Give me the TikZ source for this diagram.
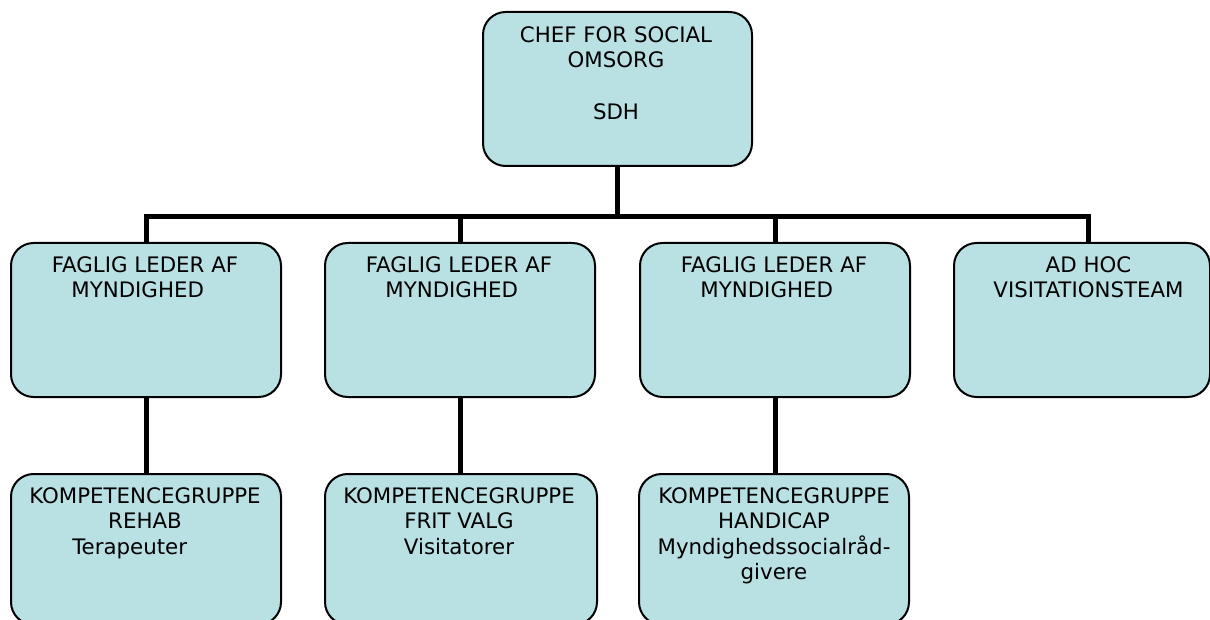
\documentclass[tikz,border=0pt]{standalone}
\usepackage{fontspec}
\setmainfont{DejaVu Sans}
\definecolor{boxfill}{RGB}{185,224,227}
\begin{document}
\begin{tikzpicture}[x=0.75pt,y=-0.75pt,
  box/.style={draw=black, line width=1.5pt, fill=boxfill, rounded corners=17pt,
    inner sep=0pt, anchor=north west, minimum width=202.5pt, minimum height=115.5pt},
  lowbox/.style={box, minimum height=113pt},
  txt/.style={anchor=north, inner sep=0pt, align=center, font=\fontsize{16}{19}\selectfont},
  link/.style={line width=3.75pt, line join=miter}]
\useasboundingbox (0,0) rectangle (1210,620);
% boxes
\node[box, minimum width=201.75pt] (top) at (482,11) {};
\node[box] (b1) at (10,242) {};
\node[box] (b2) at (324,242) {};
\node[box] (b3) at (639,242) {};
\node[box, minimum width=192pt] (b4) at (953,242) {};
\node[lowbox] (c1) at (10,473) {};
\node[lowbox, minimum width=204pt] (c2) at (324,473) {};
\node[lowbox] (c3) at (638,473) {};
% connectors
\coordinate (bus) at (616,216.5);
\coordinate (j4) at (1088.5,216.5);
\draw[link] (top.south) -- (top.south |- bus);
\draw[link] (b1.north) -- (b1.north |- bus) -- (j4) -- (j4 |- b4.north);
\draw[link] (b2.north |- bus) -- (b2.north);
\draw[link] (b3.north |- bus) -- (b3.north);
\draw[link] (b1.south) -- (c1.north);
\draw[link] (b2.south) -- (b2.south |- c2.north);
\draw[link] (b3.south) -- (b3.south |- c3.north);
% texts
\node[txt] (t0) at (616,26.5) {CHEF FOR SOCIAL\\OMSORG\\[20pt]SDH};
\node[txt] (t1) at (145,256.5) {FAGLIG LEDER AF\\MYNDIGHED\hspace*{11pt}};
\node[txt] (t2) at (459,256.5) {FAGLIG LEDER AF\\MYNDIGHED\hspace*{11pt}};
\node[txt] (t3) at (774,256.5) {FAGLIG LEDER AF\\MYNDIGHED\hspace*{11pt}};
\node[txt] (t4) at (1088.5,256.5) {AD HOC\\VISITATIONSTEAM};
\node[txt] (u1) at (145,487.5) {KOMPETENCEGRUPPE\\REHAB\\Terapeuter\hspace*{23pt}};
\node[txt] (u2) at (459,487.5) {KOMPETENCEGRUPPE\\FRIT VALG\\Visitatorer};
\node[txt] (u3) at (774,487.5) {KOMPETENCEGRUPPE\\HANDICAP\\Myndighedssocialråd-\\givere};
\end{tikzpicture}
\end{document}
